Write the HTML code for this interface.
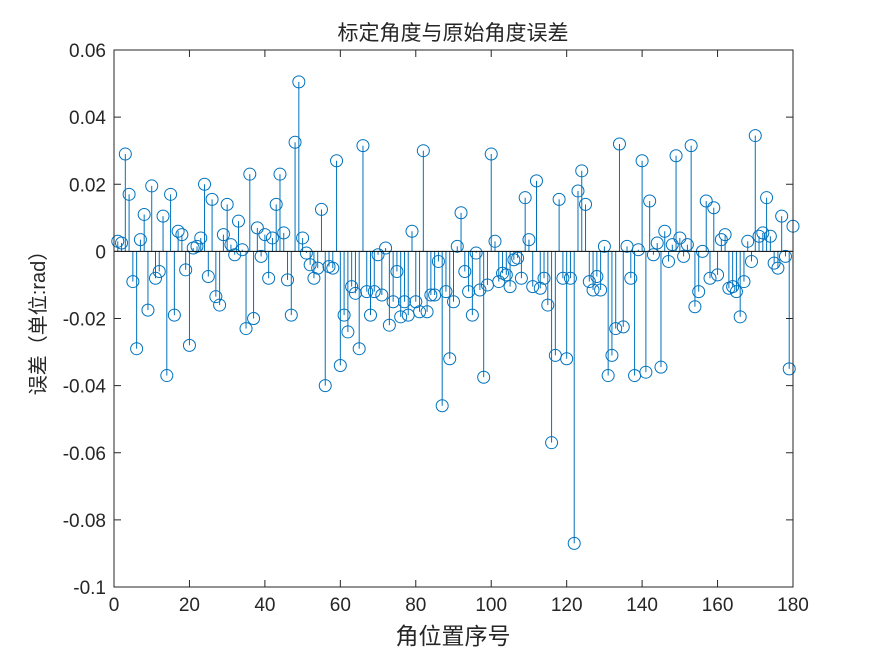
<!DOCTYPE html>
<html><head><meta charset="utf-8"><style>
body{margin:0;background:#fff}
text{font-family:"Liberation Sans","Noto Sans CJK SC",sans-serif;fill:#262626}
</style></head><body>
<svg id="chart" width="875" height="656" xmlns="http://www.w3.org/2000/svg">
<rect width="875" height="656" fill="#fff"/>
<text x="453" y="40" text-anchor="middle" font-size="21">标定角度与原始角度误差</text>
<text x="453" y="644" text-anchor="middle" font-size="23">角位置序号</text>
<text transform="translate(45,318) rotate(-90)" text-anchor="middle" font-size="20">误差（单位:rad）</text>
<g id="marks"></g>
<g id="axes"></g>
</svg>
<script>
const xTicks=[0,20,40,60,80,100,120,140,160,180];
const yTicks=[-0.1,-0.08,-0.06,-0.04,-0.02,0,0.02,0.04,0.06];
const yTickLabels=["-0.1","-0.08","-0.06","-0.04","-0.02","0","0.02","0.04","0.06"];
const errors=[0.003,0.0025,0.029,0.017,-0.009,-0.029,0.0035,0.011,-0.0175,0.0195,
-0.008,-0.006,0.0105,-0.037,0.017,-0.019,0.006,0.005,-0.0055,-0.028,
0.001,0.0015,0.004,0.020,-0.0075,0.0155,-0.0135,-0.016,0.005,0.014,
0.002,-0.001,0.009,0.0005,-0.023,0.023,-0.020,0.007,-0.0015,0.005,
-0.008,0.004,0.014,0.023,0.0055,-0.0085,-0.019,0.0325,0.0505,0.004,
-0.0005,-0.004,-0.008,-0.005,0.0125,-0.040,-0.0045,-0.005,0.027,-0.034,
-0.019,-0.024,-0.0105,-0.0125,-0.029,0.0315,-0.012,-0.019,-0.012,-0.001,
-0.013,0.001,-0.022,-0.015,-0.006,-0.0195,-0.015,-0.019,0.006,-0.015,
-0.018,0.030,-0.018,-0.013,-0.013,-0.003,-0.046,-0.012,-0.032,-0.015,
0.0015,0.0115,-0.006,-0.012,-0.019,-0.0005,-0.0115,-0.0375,-0.010,0.029,
0.003,-0.009,-0.0065,-0.007,-0.0105,-0.0025,-0.002,-0.008,0.016,0.0035,
-0.0105,0.021,-0.011,-0.008,-0.016,-0.057,-0.031,0.0155,-0.008,-0.032,
-0.008,-0.087,0.018,0.024,0.014,-0.009,-0.0115,-0.0075,-0.0115,0.0015,
-0.037,-0.031,-0.023,0.032,-0.0225,0.0015,-0.008,-0.037,0.0005,0.027,
-0.036,0.015,-0.001,0.0025,-0.0345,0.006,-0.003,0.002,0.0285,0.004,
-0.0015,0.002,0.0315,-0.0165,-0.012,0,0.015,-0.008,0.013,-0.007,
0.0035,0.005,-0.011,-0.0105,-0.012,-0.0195,-0.009,0.003,-0.003,0.0345,
0.0045,0.0055,0.016,0.0045,-0.0035,-0.005,0.0105,-0.0015,-0.035,0.0075];
const L=114,R=793,T=50,B=587;
const xs=v=>L+(v-0)/(180-0)*(R-L);
const ys=v=>B-(v+0.1)/0.16*(B-T);
const NS="http://www.w3.org/2000/svg";
function mk(tag,attrs,parent){const e=document.createElementNS(NS,tag);for(const k in attrs)e.setAttribute(k,attrs[k]);parent.appendChild(e);return e;}
const marks=document.getElementById('marks');
errors.forEach((v,i)=>{
  const x=xs(i+1);
  const ln=mk('line',{x1:x,y1:ys(0),x2:x,y2:ys(v),stroke:'#0072BD','stroke-width':1},marks);
  
  
  const c=mk('circle',{cx:x,cy:ys(v),r:6,fill:'none',stroke:'#0072BD','stroke-width':1},marks);
  
  
});
const ax=document.getElementById('axes');
const base=mk('line',{x1:L,y1:ys(0),x2:R,y2:ys(0),stroke:'#000','stroke-width':1},ax);


const box=mk('rect',{x:L,y:T,width:R-L,height:B-T,fill:'none',stroke:'#262626','stroke-width':1},ax);


xTicks.forEach(t=>{
  const x=xs(t);
  mk('line',{x1:x,y1:B,x2:x,y2:B-7,stroke:'#262626'},ax);
  mk('line',{x1:x,y1:T,x2:x,y2:T+7,stroke:'#262626'},ax);
  const tx=mk('text',{x:x,y:B+24,'text-anchor':'middle','font-size':19},ax);
  tx.textContent=t;
  
  
});
yTicks.forEach((t,i)=>{
  const y=ys(t);
  mk('line',{x1:L,y1:y,x2:L+7,y2:y,stroke:'#262626'},ax);
  mk('line',{x1:R,y1:y,x2:R-7,y2:y,stroke:'#262626'},ax);
  const tx=mk('text',{x:L-8,y:y+7,'text-anchor':'end','font-size':19},ax);
  tx.textContent=yTickLabels[i];
  
  
});
</script>
</body></html>
